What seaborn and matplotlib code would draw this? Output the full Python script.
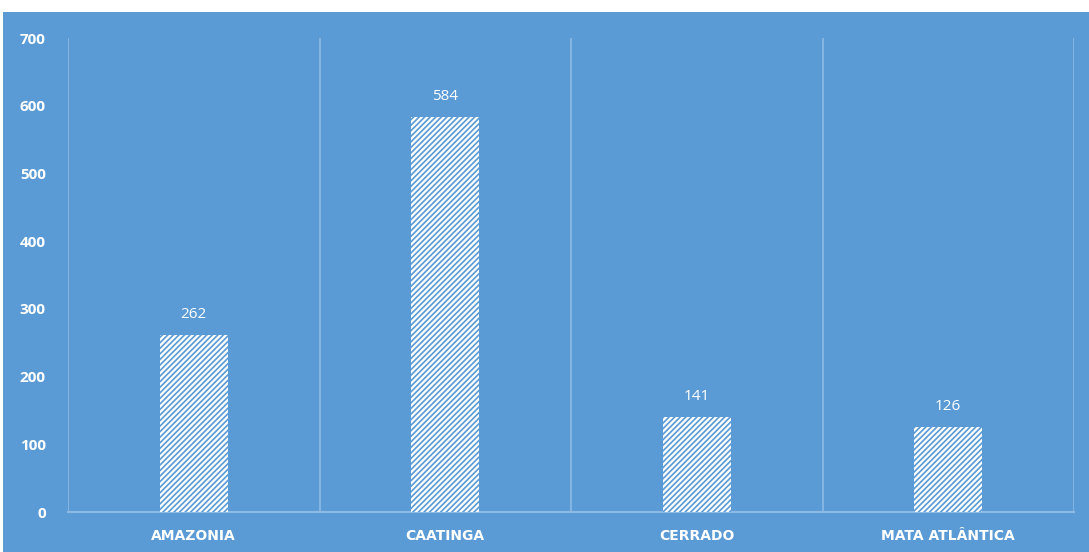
import matplotlib
matplotlib.use("Agg")
import matplotlib.pyplot as plt
import seaborn as sns
import pandas as pd
from matplotlib.patches import Rectangle

categories = ["AMAZONIA", "CAATINGA", "CERRADO", "MATA ATLÂNTICA"]
values = [262, 584, 141, 126]
yticks = [0, 100, 200, 300, 400, 500, 600, 700]

BG = "#5B9BD5"
GRID = "#8DBAE4"

sns.set_theme(style="white")
plt.rcParams["font.family"] = ["Open Sans", "DejaVu Sans"]
plt.rcParams["hatch.linewidth"] = 1.6

fig = plt.figure(figsize=(10.89, 5.52), dpi=100, facecolor="white")
fig.patches.append(Rectangle((3 / 1089, 0), 1 - 3 / 1089, (552 - 12) / 552,
                             transform=fig.transFigure, facecolor=BG,
                             edgecolor="none", zorder=-10))
ax = fig.add_axes([68 / 1089, 40 / 552, (1074 - 68) / 1089, (512 - 38) / 552])
ax.set_facecolor("none")

df = pd.DataFrame({"cat": categories, "val": values})
sns.barplot(data=df, x="cat", y="val", ax=ax, width=0.27,
            color=BG, edgecolor="white", linewidth=0, zorder=3)
for p in ax.patches:
    p.set_hatch("//////")
    p.set_facecolor(BG)
    p.set_edgecolor("white")
    p.set_linewidth(0)

for i, v in enumerate(values):
    ax.annotate(str(v), (i, v), xytext=(0, 9), textcoords="offset points",
                ha="center", va="bottom", color="white", fontsize=11)

ax.set_xlim(-0.5, len(categories) - 0.5)
ax.set_ylim(0, 700)
ax.set_yticks(yticks)
ax.set_yticklabels([str(t) for t in yticks], color="white", fontsize=11,
                   fontweight="bold")
ax.set_xticks(range(len(categories)))
ax.set_xticklabels(categories, color="white", fontsize=10, fontweight="bold",
                   family=["DejaVu Sans"])
ax.set_xticks([i - 0.5 for i in range(len(categories) + 1)], minor=True)
ax.tick_params(axis="y", length=0, pad=16)
ax.tick_params(axis="x", which="both", length=0, pad=12)
ax.grid(False)
ax.grid(True, which="minor", axis="x", color=GRID, linewidth=1.2, zorder=0)
ax.set_xlabel("")
ax.set_ylabel("")
for s in ["top", "right", "left"]:
    ax.spines[s].set_visible(False)
ax.spines["bottom"].set_color(GRID)
ax.spines["bottom"].set_linewidth(1.5)

fig.savefig("out.png", dpi=100, facecolor="white")
